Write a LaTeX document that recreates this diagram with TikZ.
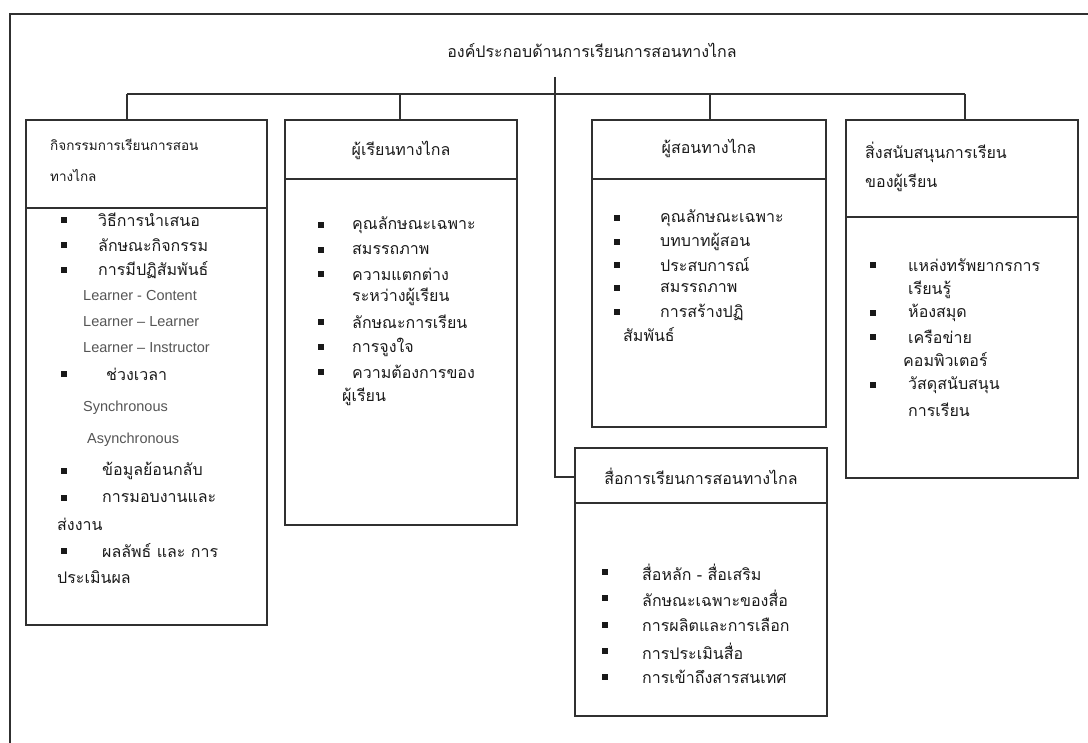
\documentclass[tikz,border=0pt]{standalone}
\usepackage{fontspec}
\newfontfamily\thai[Script=Thai]{Loma}
\newfontfamily\lat{Liberation Sans}
\definecolor{linec}{HTML}{303030}
\definecolor{textc}{HTML}{1A1A1A}
\definecolor{latc}{HTML}{555555}
\begin{document}
\begin{tikzpicture}[x=1pt,y=-1pt,
  ln/.style={draw=linec, line width=1.3pt},
  box/.style={draw=linec, line width=1.3pt, anchor=north west, inner sep=0pt, outer sep=0pt},
  th/.style={font=\thai\fontsize{16}{19}\selectfont, text=textc, anchor=west, inner sep=0pt},
  thc/.style={th, anchor=center},
  thh/.style={font=\thai\fontsize{13.5}{16}\selectfont, text=textc, anchor=west, inner sep=0pt},
  la/.style={font=\lat\fontsize{14.5}{17}\selectfont, text=latc, anchor=west, inner sep=0pt},
  bul/.style={fill=black!90, minimum size=6pt, inner sep=0pt, anchor=center}]
\useasboundingbox (0,0) rectangle (1088,743);
% outer frame
\coordinate (fTL) at (10,14);
\coordinate (fTR) at (1088,14);
\coordinate (fBL) at (10,743);
\draw[ln] (fTR) -- (fTL) -- (fBL);
% title
\node[thc] (title) at (592,50) {องค์ประกอบด้านการเรียนการสอนทางไกล};
% boxes
\node[box, minimum width=241pt, minimum height=505pt] (b1) at (26,120) {};
\node[box, minimum width=232pt, minimum height=405pt] (b2) at (285,120) {};
\node[box, minimum width=234pt, minimum height=307pt] (b3) at (592,120) {};
\node[box, minimum width=232pt, minimum height=358pt] (b4) at (846,120) {};
\node[box, minimum width=252pt, minimum height=268pt] (b5) at (575,448) {};
% dividers
\draw[ln] (b1.west |- 0,208) -- (b1.east |- 0,208);
\draw[ln] (b2.west |- 0,179) -- (b2.east |- 0,179);
\draw[ln] (b3.west |- 0,179) -- (b3.east |- 0,179);
\draw[ln] (b4.west |- 0,217) -- (b4.east |- 0,217);
\draw[ln] (b5.west |- 0,503) -- (b5.east |- 0,503);
% connectors
\coordinate (trunkTop) at (555,77);
\coordinate (bus1) at (127,94);
\coordinate (bus2) at (400,94);
\coordinate (bus3) at (710,94);
\coordinate (bus4) at (965,94);
\coordinate (b5in) at (575,477);
\draw[ln] (bus1) -- (bus4);
\draw[ln] (bus1) -- (bus1 |- b1.north);
\draw[ln] (bus2) -- (bus2 |- b2.north);
\draw[ln] (bus3) -- (bus3 |- b3.north);
\draw[ln] (bus4) -- (bus4 |- b4.north);
\draw[ln] (trunkTop) |- (b5in);
% headers
\node[thh] (h1a) at (50,145) {กิจกรรมการเรียนการสอน};
\node[thh] (h1b) at (50,175) {ทางไกล};
\node[thc] (h2) at (401,150) {ผู้เรียนทางไกล};
\node[thc] (h3) at (709,148) {ผู้สอนทางไกล};
\node[th] (h4a) at (865,152) {สิ่งสนับสนุนการเรียน};
\node[th] (h4b) at (865,183) {ของผู้เรียน};
\node[thc] (h5) at (701,476) {สื่อการเรียนการสอนทางไกล};
% box 1 items
\foreach \y/\t [count=\i] in {220/วิธีการนำเสนอ,245/ลักษณะกิจกรรม,270/การมีปฏิสัมพันธ์}
  {\node[bul] (b1s\i) at (64,\y) {}; \node[th] (b1t\i) at (98,\y) {\t};}
\node[la] (b1l1) at (83,296) {Learner - Content};
\node[la] (b1l2) at (83,322) {Learner – Learner};
\node[la] (b1l3) at (83,348) {Learner – Instructor};
\node[bul] (b1s4) at (64,374) {};
\node[th] (b1t4) at (106,374) {ช่วงเวลา};
\node[la] (b1l4) at (83,408) {Synchronous};
\node[la] (b1l5) at (87,440) {Asynchronous};
\node[bul] (b1s5) at (64,471) {};
\node[th] (b1t5) at (102,471) {ข้อมูลย้อนกลับ};
\node[bul] (b1s6) at (64,498) {};
\node[th] (b1t6) at (102,498) {การมอบงานและ};
\node[th] (b1t7) at (57,524) {ส่งงาน};
\node[bul] (b1s8) at (64,551) {};
\node[th] (b1t8) at (102,551) {ผลลัพธ์ และ การ};
\node[th] (b1t9) at (57,577) {ประเมินผล};
% box 2 items
\foreach \y/\t [count=\i] in {225/คุณลักษณะเฉพาะ,250/สมรรถภาพ,274/ความแตกต่าง,322/ลักษณะการเรียน,347/การจูงใจ,372/ความต้องการของ}
  {\node[bul] (b2s\i) at (321,\y) {}; \node[th] (b2t\i) at (352,\y) {\t};}
\node[th] (b2c1) at (352,297) {ระหว่างผู้เรียน};
\node[th] (b2c2) at (342,397) {ผู้เรียน};
% box 3 items
\foreach \y/\t [count=\i] in {218/คุณลักษณะเฉพาะ,242/บทบาทผู้สอน,265/ประสบการณ์,288/สมรรถภาพ,312/การสร้างปฏิ}
  {\node[bul] (b3s\i) at (617,\y) {}; \node[th] (b3t\i) at (660,\y) {\t};}
\node[th] (b3c1) at (623,335) {สัมพันธ์};
% box 4 items
\foreach \y/\t [count=\i] in {265/แหล่งทรัพยากรการ,313/ห้องสมุด,337/เครือข่าย,385/วัสดุสนับสนุน}
  {\node[bul] (b4s\i) at (873,\y) {}; \node[th] (b4t\i) at (908,\y) {\t};}
\node[th] (b4c1) at (908,290) {เรียนรู้};
\node[th] (b4c2) at (903,360) {คอมพิวเตอร์};
\node[th] (b4c3) at (908,410) {การเรียน};
% box 5 items
\foreach \y/\t [count=\i] in {572/สื่อหลัก - สื่อเสริม,598/ลักษณะเฉพาะของสื่อ,625/การผลิตและการเลือก,651/การประเมินสื่อ,677/การเข้าถึงสารสนเทศ}
  {\node[bul] (b5s\i) at (605,\y) {}; \node[th] (b5t\i) at (642,\y) {\t};}
\end{tikzpicture}
\end{document}
